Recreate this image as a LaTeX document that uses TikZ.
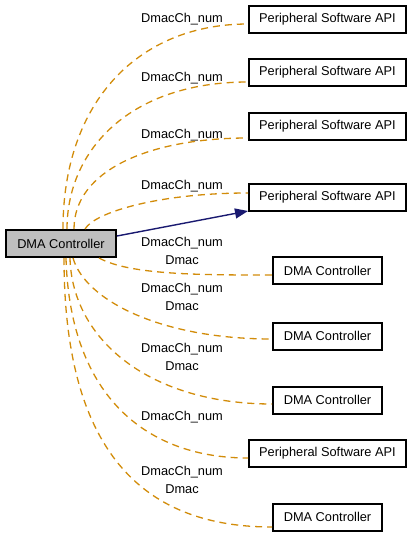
\documentclass[tikz,border=0pt]{standalone}
\usepackage{fontspec}
\setmainfont{Liberation Sans}
\usetikzlibrary{arrows.meta}
\definecolor{edgeorange}{RGB}{210,140,10}
\definecolor{edgeblue}{RGB}{25,25,112}
\begin{document}
\begin{tikzpicture}[x=1pt,y=-1pt,
    every node/.style={font=\fontsize{12.8}{17.5}\selectfont},
    box/.style={draw=black,line width=2pt,fill=white,inner sep=0pt,minimum height=27pt},
    apibox/.style={box,minimum width=157pt},
    dmabox/.style={box,minimum width=109pt},
    mainbox/.style={box,fill=black!25,minimum width=110pt},
    uses/.style={draw=edgeorange,line width=1.3pt,dash pattern=on 7pt off 5pt},
    calls/.style={draw=edgeblue,line width=1.4pt,-{Triangle[length=13pt,width=10pt]}},
    lab/.style={align=center,inner sep=0pt}]
    \useasboundingbox (0,0) rectangle (413,537);

    % Define the boxes
    \node[mainbox] (dma) at (61,243.5) {DMA Controller};

    \node[apibox] (p1) at (327.5,19.5) {Peripheral Software API};
    \node[apibox] (p2) at (327.5,72.5) {Peripheral Software API};
    \node[apibox] (p3) at (327.5,126.5) {Peripheral Software API};
    \node[apibox] (p4) at (327.5,197.5) {Peripheral Software API};
    \node[dmabox] (d5) at (327.5,270.5) {DMA Controller};
    \node[dmabox] (d6) at (327.5,336) {DMA Controller};
    \node[dmabox] (d7) at (327.5,400) {DMA Controller};
    \node[apibox] (p8) at (327.5,453) {Peripheral Software API};
    \node[dmabox] (d9) at (327.5,517) {DMA Controller};

    % Define the labels
    \node[lab] (l1) at (182,19) {DmacCh\_num};
    \node[lab] (l2) at (182,78) {DmacCh\_num};
    \node[lab] (l3) at (182,135) {DmacCh\_num};
    \node[lab] (l4) at (182,186) {DmacCh\_num};
    \node[lab] (l5) at (182,251) {DmacCh\_num\\Dmac};
    \node[lab] (l6) at (182,297) {DmacCh\_num\\Dmac};
    \node[lab] (l7) at (182,357) {DmacCh\_num\\Dmac};
    \node[lab] (l8) at (182,417) {DmacCh\_num};
    \node[lab] (l9) at (182,480) {DmacCh\_num\\Dmac};

    % Draw usage edges
    \draw[uses] ([xshift=2pt]dma.north) .. controls +(0,-129) and +(-108,0) .. ([yshift=-4.5pt]p1.west);
    \draw[uses] ([xshift=6pt]dma.north) .. controls +(0,-79) and +(-118,0) .. ([yshift=-9.5pt]p2.west);
    \draw[uses] ([xshift=13pt]dma.north) .. controls +(0,-59) and +(-98,0) .. ([yshift=-11.5pt]p3.west);
    \draw[uses] ([xshift=24pt]dma.north) .. controls +(10,-17) and +(-88,0) .. ([yshift=4.5pt]p4.west);
    \draw[uses] ([xshift=38pt]dma.south) .. controls +(31,17) and +(-72,0) .. ([yshift=-4.5pt]d5.west);
    \draw[uses] ([xshift=12pt]dma.south) .. controls +(12,42) and +(-112,0) .. ([yshift=-3pt]d6.west);
    \draw[uses] ([xshift=9pt]dma.south) .. controls +(2,82) and +(-122,0) .. ([yshift=-4pt]d7.west);
    \draw[uses] ([xshift=5pt]dma.south) .. controls +(4,142) and +(-98,0) .. ([yshift=-5pt]p8.west);
    \draw[uses] ([xshift=3pt]dma.south) .. controls +(0,202) and +(-122,0) .. ([yshift=-10pt]d9.west);

    % Draw call arrow
    \draw[calls] ([yshift=7.5pt]dma.east) -- ([yshift=-13.5pt]p4.west);
\end{tikzpicture}
\end{document}
